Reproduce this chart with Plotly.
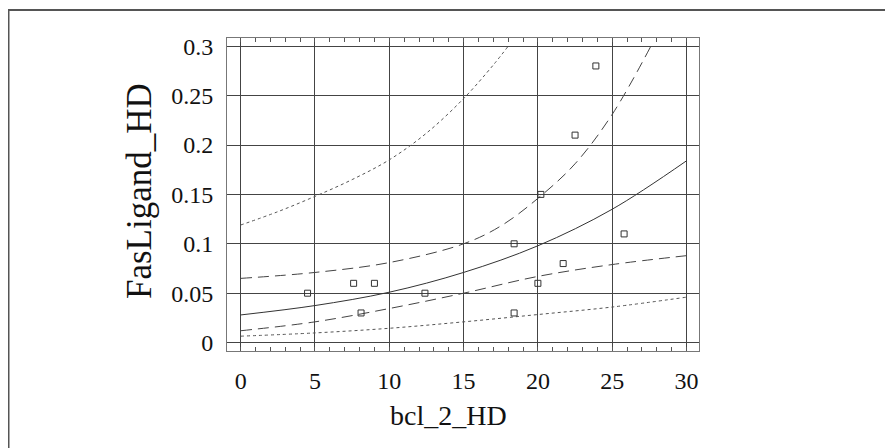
import plotly.graph_objects as go

# Observed points
obs_x = [4.5, 7.6, 9.0, 8.1, 12.4, 18.4, 18.4, 20.0, 20.2, 21.7, 22.5, 23.9, 25.8]
obs_y = [0.05, 0.06, 0.06, 0.03, 0.05, 0.10, 0.03, 0.06, 0.15, 0.08, 0.21, 0.28, 0.11]

# Fitted curve
fit_x = [0, 5, 10, 15, 20, 25, 30]
fit_y = [0.028, 0.0375, 0.051, 0.071, 0.098, 0.135, 0.184]

# Confidence band (dashed)
cu_x = [0, 5, 10, 15, 17.5, 20, 22.5, 25, 27.6]
cu_y = [0.065, 0.071, 0.081, 0.100, 0.118, 0.146, 0.181, 0.231, 0.300]
cl_x = [0, 5, 10, 15, 20, 25, 30]
cl_y = [0.012, 0.021, 0.0345, 0.050, 0.067, 0.079, 0.088]

# Prediction band (dotted)
pu_x = [0, 2.5, 5, 7.5, 10, 12.5, 15, 17, 18]
pu_y = [0.119, 0.1325, 0.148, 0.165, 0.185, 0.212, 0.247, 0.281, 0.300]
pl_x = [0, 5, 10, 15, 20, 25, 30]
pl_y = [0.0065, 0.0098, 0.0145, 0.021, 0.0284, 0.036, 0.046]

x_ticks = [0, 5, 10, 15, 20, 25, 30]
y_ticks = [0, 0.05, 0.1, 0.15, 0.2, 0.25, 0.3]
y_tick_text = ["0", "0.05", "0.1", "0.15", "0.2", "0.25", "0.3"]

FONT = "Times New Roman"
DARK = "#333333"

PW, PH = 472, 313  # plot area size in px

fig = go.Figure()
fig.add_trace(go.Scatter(x=pu_x, y=pu_y, mode="lines", line=dict(color="#555", width=1, dash="dot", shape="spline")))
fig.add_trace(go.Scatter(x=pl_x, y=pl_y, mode="lines", line=dict(color="#555", width=1, dash="dot", shape="spline")))
fig.add_trace(go.Scatter(x=cu_x, y=cu_y, mode="lines", line=dict(color="#444", width=1, dash="11px,6px", shape="spline")))
fig.add_trace(go.Scatter(x=cl_x, y=cl_y, mode="lines", line=dict(color="#444", width=1, dash="11px,6px", shape="spline")))
fig.add_trace(go.Scatter(x=fit_x, y=fit_y, mode="lines", line=dict(color=DARK, width=1, shape="spline")))
fig.add_trace(go.Scatter(x=obs_x, y=obs_y, mode="markers",
                         marker=dict(symbol="square-open", size=6, color=DARK, line=dict(width=1, color=DARK))))

fig.update_layout(
    width=885, height=440,
    margin=dict(l=219, r=194, t=30, b=97, autoexpand=False),
    paper_bgcolor="white", plot_bgcolor="white",
    showlegend=False,
    font=dict(family=FONT, size=24, color="#111"),
    xaxis=dict(range=[-0.92, 30.84], tickvals=x_ticks, ticktext=[str(v) for v in x_ticks],
               showgrid=True, gridcolor="#444", gridwidth=1, zeroline=False,
               showline=True, linecolor="#777", linewidth=1, mirror="allticks",
               ticks="", ticklabelstandoff=8, automargin=False,
               minor=dict(dtick=1, tick0=0, ticks="inside", ticklen=4, tickcolor="#555", showgrid=False),
               tickfont=dict(family=FONT, size=24, color="#111")),
    yaxis=dict(range=[-0.0085, 0.3083], tickvals=y_ticks, ticktext=y_tick_text,
               showgrid=True, gridcolor="#444", gridwidth=1, zeroline=False,
               showline=True, linecolor="#777", linewidth=1, mirror=True,
               ticks="", ticklabelstandoff=8, automargin=False,
               tickfont=dict(family=FONT, size=24, color="#111")),
    shapes=[dict(type="rect", xref="paper", yref="paper", x0=-218.5/PW, x1=1.5, y0=-1, y1=1 + 28/PH,
                 line=dict(color="#555", width=2), fillcolor="rgba(0,0,0,0)", layer="below")],
    annotations=[
        dict(text="bcl_2_HD", xref="paper", yref="paper", x=(448-227)/PW, y=-(415-351)/PH,
             showarrow=False, xanchor="center", yanchor="middle",
             font=dict(family=FONT, size=28, color="#111")),
        dict(text="FasLigand_HD", xref="paper", yref="paper", x=-(227-139)/PW, y=(351-191)/PH,
             showarrow=False, textangle=-90, xanchor="center", yanchor="middle",
             font=dict(family=FONT, size=35, color="#111")),
    ],
)

fig.write_html("out.html")
